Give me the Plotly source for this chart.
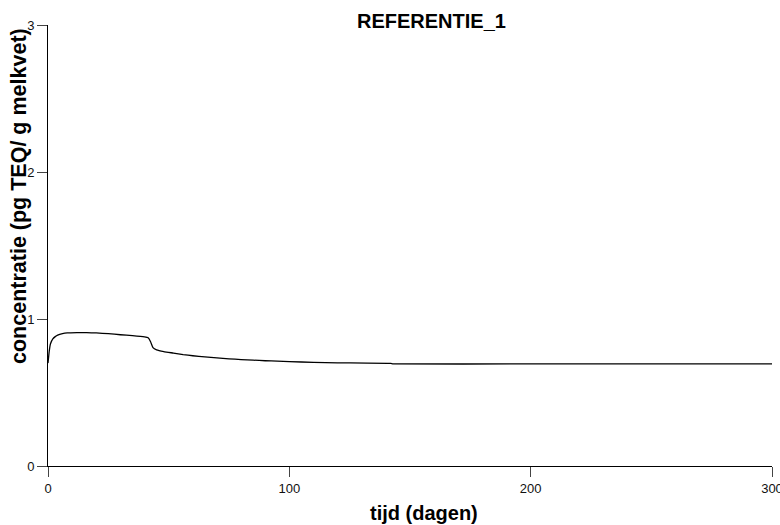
import plotly.graph_objects as go

# time (days) and milk-fat concentration (pg TEQ / g melkvet)
tijd = [0, 0.5, 1, 2, 3, 4, 6, 8, 12, 16, 20, 25, 30, 35, 40, 41.5, 42.5,
        43.5, 45, 48, 52, 56, 60, 65, 70, 75, 80, 85, 90, 95, 100, 110, 120,
        142, 143, 200, 250, 300]
concentratie = [0.70, 0.78, 0.83, 0.865, 0.88, 0.89, 0.90, 0.905, 0.907,
                0.907, 0.905, 0.90, 0.893, 0.887, 0.878, 0.872, 0.845, 0.805,
                0.79, 0.778, 0.768, 0.758, 0.75, 0.742, 0.735, 0.729, 0.724,
                0.72, 0.716, 0.713, 0.71, 0.705, 0.702, 0.698, 0.695, 0.695,
                0.695, 0.695]

x_ticks = [0, 100, 200, 300]
y_ticks = [0, 1, 2, 3]

FONT = "Liberation Sans, Arial, sans-serif"

# plot area in pixels
L, R, T, B = 48, 8, 25, 59
W, H = 780, 525
pw = W - L - R
ph = H - T - B


def px_x(x):
    return (x - L) / pw


def px_y(y):
    return (H - B - y) / ph


fig = go.Figure(go.Scatter(
    x=tijd, y=concentratie, mode="lines",
    line=dict(color="black", width=1.3, shape="spline", smoothing=0.4),
    hoverinfo="skip", showlegend=False,
))

axis_common = dict(
    showgrid=False, zeroline=False, showline=True, linecolor="black",
    linewidth=1, ticks="outside", ticklen=10, tickwidth=1, tickcolor="#444",
    tickfont=dict(family=FONT, size=13, color="#111"), automargin=False,
)

fig.update_xaxes(range=[0, 300], tickvals=x_ticks, ticktext=[str(v) for v in x_ticks],
                 ticklabeloverflow="allow", **axis_common)
fig.update_yaxes(range=[0, 3], tickvals=y_ticks, ticktext=[str(v) for v in y_ticks],
                 **axis_common)

fig.update_layout(
    width=W, height=H,
    margin=dict(l=L, r=R, t=T, b=B, autoexpand=False),
    plot_bgcolor="white", paper_bgcolor="white",
    font=dict(family=FONT),
    annotations=[
        dict(text="<b>REFERENTIE_1</b>", x=px_x(431), y=px_y(21),
             xref="paper", yref="paper", showarrow=False,
             xanchor="center", yanchor="middle",
             font=dict(family=FONT, size=20, color="black")),
        dict(text="<b>tijd (dagen)</b>", x=px_x(424), y=px_y(513),
             xref="paper", yref="paper", showarrow=False,
             xanchor="center", yanchor="middle",
             font=dict(family=FONT, size=20, color="black")),
        dict(text="<b>concentratie (pg TEQ/ g melkvet)</b>", x=px_x(19), y=px_y(196),
             xref="paper", yref="paper", showarrow=False, textangle=-90,
             xanchor="center", yanchor="middle",
             font=dict(family=FONT, size=21.5, color="black")),
    ],
)

fig.write_html("out.html")
